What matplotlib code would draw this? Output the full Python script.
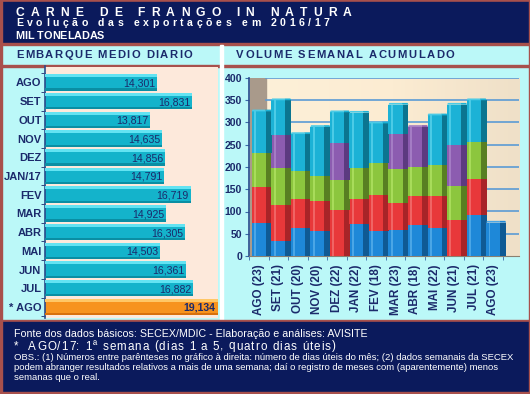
import numpy as np
import matplotlib
matplotlib.use('Agg')
import matplotlib.pyplot as plt
from matplotlib.patches import Rectangle, Polygon
from matplotlib.font_manager import FontProperties, findfont, get_font

W, H, DPI = 530, 394, 100

# ---- data ----
months_left = ['AGO', 'SET', 'OUT', 'NOV', 'DEZ', 'JAN/17', 'FEV', 'MAR', 'ABR',
               'MAI', 'JUN', 'JUL', '* AGO']
daily_avg = [14301, 16831, 13817, 14635, 14856, 14791, 16719, 14925, 16305,
             14503, 16361, 16882, 19134]

months_right = ['AGO (23)', 'SET (21)', 'OUT (20)', 'NOV (20)', 'DEZ (22)', 'JAN (22)',
                'FEV (18)', 'MAR (23)', 'ABR (18)', 'MAI (22)', 'JUN (21)', 'JUL (21)',
                'AGO (23)']
week1 = [75, 34, 62, 56, 0, 73, 56, 58, 69, 64, 0, 93, 75]
week2 = [80, 80, 67, 68, 103, 54, 81, 62, 65, 70, 81, 81, 0]
week3 = [77, 83, 61, 55, 67, 71, 73, 76, 67, 71, 76, 83, 0]
week4 = [0, 75, 0, 0, 84, 0, 0, 78, 89, 0, 93, 0, 0]
week5 = [93, 78, 84, 111, 69, 124, 88, 66, 0, 111, 90, 93, 0]

NAVY = '#0b1a5c'
TXT = '#1b2a6b'
CYAN = '#bbf8f8'
LINE = '#a8504c'

fig = plt.figure(figsize=(W / DPI, H / DPI), dpi=DPI)
fig.patch.set_facecolor(CYAN)

def px_axes(l, t, r, b, **kw):
    return fig.add_axes([l / W, 1 - b / H, (r - l) / W, (b - t) / H], **kw)

def spaced(x, y, s, size, track=0.0, weight='normal', color='white', family='Liberation Sans'):
    # draw text char by char with extra letter spacing (pixel coords, y from top)
    prop = FontProperties(family=family, weight=weight, size=size)
    font = get_font(findfont(prop))
    font.set_size(size, DPI)
    for ch in s:
        if ch != ' ':
            fig.text(x / W, 1 - y / H, ch, fontproperties=prop, color=color,
                     ha='left', va='baseline')
        g = font.load_char(ord(ch))
        x += g.linearHoriAdvance / 65536 + track

# ---- background frame ----
bg = px_axes(0, 0, W, H, zorder=0)
bg.set_xlim(0, W)
bg.set_ylim(H, 0)
bg.axis('off')
bg.add_patch(Rectangle((0, 0), W, 2, color=LINE))
bg.add_patch(Rectangle((0, 2), W, 41, color=NAVY))
bg.add_patch(Rectangle((0, 43), W, 2, color=LINE))
bg.add_patch(Rectangle((0, 64.5), W, 2, color=LINE))
bg.add_patch(Rectangle((220, 45), 3, 276, color='white'))
bg.add_patch(Rectangle((0, 320), W, 2, color=LINE))
bg.add_patch(Rectangle((0, 322), W, 70, color=NAVY))
bg.add_patch(Rectangle((0, 392), W, 2, color=LINE))
bg.add_patch(Rectangle((0, 0), 1.5, H, color=LINE))
bg.add_patch(Rectangle((W - 1.5, 0), 1.5, H, color=LINE))

# ---- header texts ----
spaced(16, 15.5, 'CARNE DE FRANGO IN NATURA', 8.7, track=6.1, weight='bold')
spaced(16, 25.5, 'Evolução das exportações em 2016/17', 7.6, track=3.6, weight='bold')
spaced(15, 39, 'MIL TONELADAS', 7.8, track=0.0, weight='bold')
spaced(16, 58.5, 'EMBARQUE MEDIO DIARIO', 8.1, track=1.4, weight='bold', color=TXT)
spaced(236, 58.5, 'VOLUME SEMANAL ACUMULADO', 8.1, track=1.5, weight='bold', color=TXT)

# ---- left chart: daily average ----
axl = px_axes(45, 66.5, 218, 318)
axl.set_facecolor('#fde9db')
y = np.arange(len(months_left))
vals = np.array(daily_avg)
xmin = 6200
cols = ['#14b3cb'] * (len(vals) - 1) + ['#f7931e']
tops = ['#63e3f2'] * (len(vals) - 1) + ['#ffc766']
bots = ['#0a8ea3'] * (len(vals) - 1) + ['#d8700c']
axl.barh(y, vals - xmin, left=xmin, height=0.88, color=cols, zorder=2)
axl.barh(y - 0.36, vals - xmin, left=xmin, height=0.16, color=tops, zorder=3)
axl.barh(y + 0.38, vals - xmin, left=xmin, height=0.12, color=bots, zorder=3)
for yi, v in zip(y, vals):
    axl.text(min(v, 18650) - 120, yi + 0.05, f'{v:,}', ha='right', va='center',
             fontsize=7.6, color=TXT, weight='bold' if v > 19000 else 'normal',
             family='Liberation Sans', zorder=4)
axl.set_xlim(xmin, 18700)
axl.set_ylim(12.59, -0.853)
axl.set_yticks(y)
axl.set_yticklabels(months_left, fontsize=8.0, weight='bold', color=TXT,
                    family='Liberation Sans')
axl.set_yticks(np.arange(-0.5, 13, 1), minor=True)
axl.tick_params(axis='y', which='major', length=0, pad=2.5)
axl.tick_params(axis='y', which='minor', length=3, color=TXT, direction='out')
axl.set_xticks([])
for s in ['top', 'right', 'bottom']:
    axl.spines[s].set_visible(False)
axl.spines['left'].set_color('#2a4a8a')
axl.spines['left'].set_linewidth(1.2)

# ---- right chart: weekly stacked volumes ----
axr = px_axes(249, 78, 519, 256)
axr.set_xlim(-0.46, 13.32)
axr.set_ylim(0, 400)
axr.set_facecolor(CYAN)
axr.patch.set_alpha(0)
# back wall and left wall
wall = np.linspace(0, 1, 64).reshape(1, -1)
axr.imshow(wall, extent=[0.35, 13.32, 0, 400], aspect='auto', zorder=0,
           cmap=matplotlib.colors.LinearSegmentedColormap.from_list(
               'w', ['#fdf0d8', '#fcecd2', '#efe0c8']))
axr.add_patch(Rectangle((-0.46, 0), 0.81, 400, color='#a99a8b', zorder=0.5))
for g in range(50, 401, 50):
    axr.plot([0.35, 13.32], [g, g], color='#5b9bd5', lw=1.2, zorder=1)

front_c = ['#1e88d8', '#e8383a', '#8cc63e', '#8c5cb0', '#1cb2d6']
side_c = ['#0f5a94', '#a82428', '#587f22', '#5c3a80', '#0b7590']
light_c = ['#4aa6e6', '#f06464', '#a8dc5a', '#a47cc4', '#4ccbe6']
series = [week1, week2, week3, week4, week5]
xs = np.arange(len(months_right))
fw, sw = 0.36, 0.30
bottom = np.zeros(len(xs))
for k, ser in enumerate(series):
    ser = np.array(ser, dtype=float)
    for i in xs:
        if ser[i] <= 0:
            continue
        b0 = bottom[i]
        axr.add_patch(Rectangle((i - fw, b0), 2 * fw, ser[i], color=front_c[k], zorder=3, lw=0))
        axr.add_patch(Rectangle((i - fw + 0.12, b0), 0.1, ser[i], color=light_c[k], zorder=3.1, lw=0))
        axr.add_patch(Rectangle((i + fw, b0), sw, ser[i], color=side_c[k], zorder=3, lw=0))
    bottom += ser
# top caps
for i in xs:
    top = bottom[i]
    k = max(j for j in range(5) if series[j][i] > 0)
    axr.add_patch(Polygon([(i - fw, top), (i + fw, top), (i + fw - 0.04, top + 4),
                           (i - fw + 0.04, top + 4)], closed=True, color=light_c[k], zorder=3.2, lw=0))
    axr.add_patch(Polygon([(i + fw, top), (i + fw + sw, top), (i + fw + sw - 0.04, top + 4),
                           (i + fw - 0.04, top + 4)], closed=True, color=front_c[k], zorder=3.2, lw=0))
axr.set_yticks(range(0, 401, 50))
axr.set_yticklabels([str(v) for v in range(0, 401, 50)], fontsize=7.6, weight='bold',
                    color=TXT, family='Liberation Sans')
axr.set_xticks(xs)
axr.set_xticklabels(months_right, rotation=90, fontsize=8.4, weight='bold', color=TXT,
                    family='Liberation Sans', va='top')
axr.set_xticks(np.arange(-0.5, 13, 1), minor=True)
axr.tick_params(axis='x', which='major', length=0, pad=6)
axr.tick_params(axis='x', which='minor', length=3, color='#3a6aaa')
axr.tick_params(axis='y', length=3, color='#3a6aaa', pad=2)
for s in ['top', 'right']:
    axr.spines[s].set_visible(False)
axr.spines['left'].set_color('#2a4a8a')
axr.spines['bottom'].set_color('#8a8070')
axr.spines['left'].set_linewidth(1.2)

# ---- footer ----
fam = 'Liberation Sans'
fig.text(14 / W, 1 - 337 / H, 'Fonte dos dados básicos: SECEX/MDIC - Elaboração e análises: AVISITE',
         color='white', fontsize=7.7, family=fam, va='baseline')
spaced(14, 349.5, '*  AGO/17: 1ª semana (dias 1 a 5, quatro dias úteis)', 8.4, track=1.05)
obs = ['OBS.: (1) Números entre parênteses no gráfico à direita: número de dias úteis do mês; (2) dados semanais da SECEX',
       'podem abranger resultados relativos a mais de uma semana; daí o registro de meses com (aparentemente) menos',
       'semanas que o real.']
for j, line in enumerate(obs):
    fig.text(14 / W, 1 - (359.5 + 10.5 * j) / H, line, color='white', fontsize=6.8,
             family=['Liberation Sans Narrow', 'Liberation Sans'], va='baseline')

fig.savefig('out.png', dpi=DPI, facecolor=fig.get_facecolor())
